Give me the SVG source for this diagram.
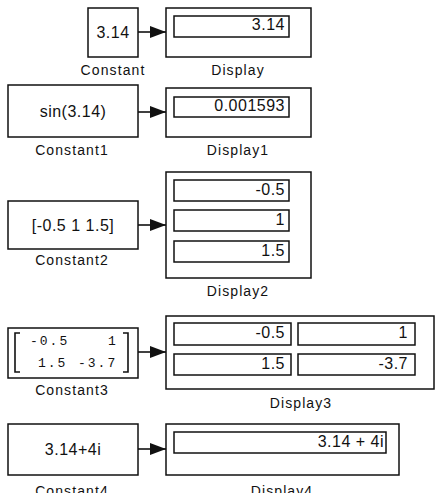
<svg xmlns="http://www.w3.org/2000/svg" width="436" height="500" viewBox="0 0 436 500">
<style>
.blk{fill:#fff;stroke:#111;stroke-width:1.5}
.fld{fill:#fff;stroke:#111;stroke-width:1.5}
.val{font-family:"Liberation Sans",Arial,sans-serif;font-size:16px;letter-spacing:0.5px;fill:#111;text-anchor:middle}
.num{font-family:"Liberation Sans",Arial,sans-serif;font-size:16px;letter-spacing:0.5px;fill:#111;text-anchor:end}
.lbl{font-family:"Liberation Sans",Arial,sans-serif;font-size:14px;letter-spacing:1.1px;fill:#111;text-anchor:middle}
.mat{font-family:"Liberation Mono","Courier New",monospace;font-size:13px;letter-spacing:2px;fill:#111}
.wire{stroke:#111;stroke-width:1.6;fill:none}
</style>
<defs>
<marker id="ah" markerWidth="16" markerHeight="12" refX="16" refY="6" orient="auto" markerUnits="userSpaceOnUse">
<path d="M0,0 L16,6 L0,12 Z" fill="#111"/>
</marker>
<clipPath id="bottomcut"><rect x="0" y="0" width="436" height="493"/></clipPath>
</defs>
<g id="connectors">
<line class="wire" x1="138" y1="32" x2="166" y2="32" marker-end="url(#ah)"/>
<line class="wire" x1="138" y1="112" x2="166" y2="112" marker-end="url(#ah)"/>
<line class="wire" x1="138" y1="225" x2="166" y2="225" marker-end="url(#ah)"/>
<line class="wire" x1="138" y1="352" x2="166" y2="352" marker-end="url(#ah)"/>
<line class="wire" x1="138" y1="449" x2="166" y2="449" marker-end="url(#ah)"/>
</g>
<g id="Constant">
<rect class="blk" x="88" y="8" width="50" height="49"/>
<text class="val" x="113" y="38">3.14</text>
<text class="lbl" x="113" y="75">Constant</text>
</g>
<g id="Display">
<rect class="blk" x="166" y="8" width="145" height="49"/>
<rect class="fld" x="174" y="16" width="115" height="21"/>
<text class="num" x="285" y="30">3.14</text>
<text class="lbl" x="238" y="75">Display</text>
</g>
<g id="Constant1">
<rect class="blk" x="8" y="85" width="130" height="52"/>
<text class="val" x="73" y="117">sin(3.14)</text>
<text class="lbl" x="72" y="155">Constant1</text>
</g>
<g id="Display1">
<rect class="blk" x="166" y="88" width="145" height="49"/>
<rect class="fld" x="174" y="97" width="115" height="20"/>
<text class="num" x="285" y="111">0.001593</text>
<text class="lbl" x="238" y="155">Display1</text>
</g>
<g id="Constant2">
<rect class="blk" x="8" y="201" width="130" height="48"/>
<text class="val" x="73" y="231">[-0.5 1 1.5]</text>
<text class="lbl" x="72" y="265">Constant2</text>
</g>
<g id="Display2">
<rect class="blk" x="166" y="172" width="145" height="106"/>
<rect class="fld" x="174" y="180" width="115" height="21"/>
<rect class="fld" x="174" y="210" width="115" height="21"/>
<rect class="fld" x="174" y="241" width="115" height="21"/>
<text class="num" x="285" y="195">-0.5</text>
<text class="num" x="285" y="225">1</text>
<text class="num" x="285" y="256">1.5</text>
<text class="lbl" x="238" y="296">Display2</text>
</g>
<g id="Constant3">
<rect class="blk" x="8" y="328" width="130" height="50"/>
<path class="wire" d="M20,333 L15,333 L15,372 L20,372 M123,333 L128,333 L128,372 L123,372"/>
<text class="mat" x="30" y="345">-0.5</text>
<text class="mat" x="108" y="345">1</text>
<text class="mat" x="38" y="367">1.5</text>
<text class="mat" x="78" y="367">-3.7</text>
<text class="lbl" x="72" y="395">Constant3</text>
</g>
<g id="Display3">
<rect class="blk" x="166" y="316" width="268" height="73"/>
<rect class="fld" x="174" y="323" width="117" height="22"/>
<rect class="fld" x="298" y="323" width="117" height="22"/>
<rect class="fld" x="174" y="354" width="117" height="21"/>
<rect class="fld" x="298" y="354" width="117" height="21"/>
<text class="num" x="285" y="338">-0.5</text>
<text class="num" x="408" y="338">1</text>
<text class="num" x="285" y="369">1.5</text>
<text class="num" x="408" y="369">-3.7</text>
<text class="lbl" x="301" y="408">Display3</text>
</g>
<g id="Constant4">
<rect class="blk" x="8" y="424" width="130" height="51"/>
<text class="val" x="73" y="455">3.14+4i</text>
<text class="lbl" x="72" y="496" clip-path="url(#bottomcut)">Constant4</text>
</g>
<g id="Display4">
<rect class="blk" x="166" y="424" width="233" height="51"/>
<rect class="fld" x="174" y="432" width="212" height="21"/>
<text class="num" x="384" y="447">3.14 + 4i</text>
<text class="lbl" x="282" y="496" clip-path="url(#bottomcut)">Display4</text>
</g>
</svg>
